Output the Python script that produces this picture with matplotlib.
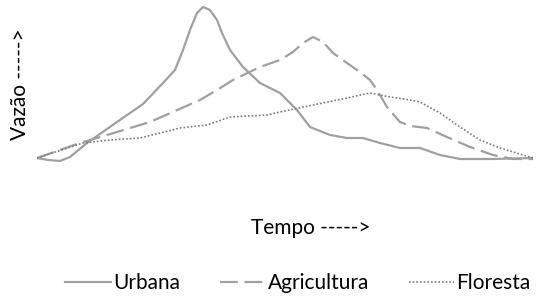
import matplotlib.pyplot as plt

plt.rcParams['font.family'] = ['Lato', 'DejaVu Sans']

# values (time units, flow units)
t_urbana = [0, 11, 23, 33, 50, 80, 106, 126, 138, 146, 153, 160, 166, 173, 180, 185,
            193, 206, 223, 243, 260, 273, 293, 310, 326, 343, 363, 383, 403, 423, 456, 496]
v_urbana = [0, -2, -3, 1, 15, 36, 54, 75, 88, 108, 128, 145, 151, 148, 138, 125,
            108, 91, 75, 65, 48, 31, 23, 20, 20, 15, 10, 10, 3, -1, -1, 0]

t_agri = [0, 43, 80, 113, 163, 180, 196, 223, 243, 256, 266, 276, 286, 296, 310,
          323, 333, 340, 350, 363, 373, 390, 410, 433, 456, 476, 496]
v_agri = [0, 15, 26, 36, 58, 68, 78, 91, 98, 106, 115, 121, 116, 105, 95,
          86, 78, 68, 51, 36, 32, 30, 21, 11, 3, -1, -1]

t_flor = [0, 46, 73, 103, 123, 143, 170, 193, 230, 243, 276, 310, 333, 353, 373,
          383, 403, 423, 443, 463, 496]
v_flor = [0, 15, 18, 20, 25, 30, 33, 41, 43, 46, 53, 60, 65, 61, 58,
          56, 45, 31, 18, 10, 0]

gray = '#a0a0a0'

fig = plt.figure(figsize=(5.36, 2.96), dpi=100)
ax = fig.add_axes([37 / 536, (296 - 162) / 296, 496 / 536, 156 / 296])

l1, = ax.plot(t_urbana, v_urbana, color=gray, lw=1.6, label='Urbana',
              solid_joinstyle='round')
l2, = ax.plot(t_agri, v_agri, color=gray, lw=1.6, linestyle=(0, (8, 3)),
              label='Agricultura')
l3, = ax.plot(t_flor, v_flor, color='#7a7a7a', lw=1.2, linestyle=(0, (1, 1.2)),
              label='Floresta')

ax.set_xlim(0, 496)
ax.set_ylim(-4, 152)
ax.set_xticks([])
ax.set_yticks([])
for s in ax.spines.values():
    s.set_visible(False)

fig.text(20 / 536, 1 - 84 / 296, 'Vazão ----->', rotation=90, ha='center',
         va='center', fontsize=15)
fig.text(311 / 536, 1 - 228 / 296, 'Tempo ----->', ha='center', va='center',
         fontsize=15)

fig.legend(handles=[l1, l2, l3], loc='center', ncol=3,
           bbox_to_anchor=(298 / 536, 1 - 283 / 296), frameon=False,
           fontsize=15, handlelength=2.2, handletextpad=0.1,
           columnspacing=1.9)

fig.savefig('out.png', dpi=100)
